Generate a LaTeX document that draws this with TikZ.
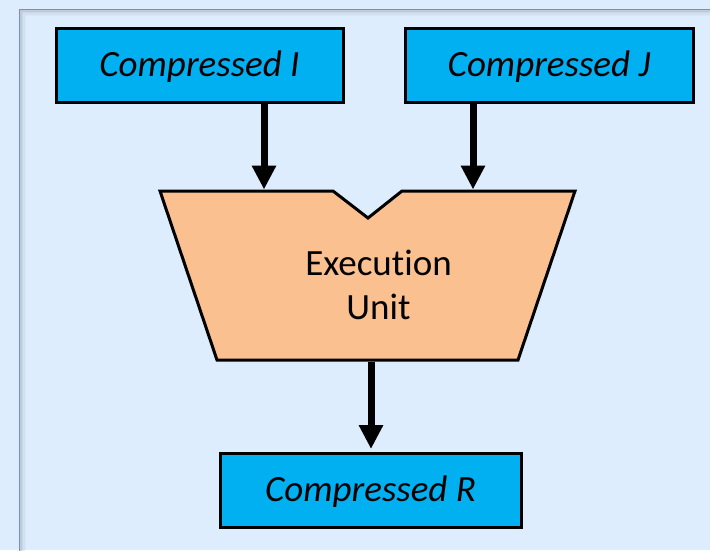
\documentclass[tikz,border=0pt]{standalone}
\usepackage{fontspec}
\setmainfont{Carlito}[Ligatures=NoCommon]
\usetikzlibrary{arrows.meta}
\definecolor{pagebg}{HTML}{DDEDFD}
\definecolor{framec}{HTML}{7091CB}
\definecolor{boxfill}{HTML}{00B0F0}
\definecolor{unitfill}{HTML}{FAC090}
\tikzset{
  databox/.style={draw=black, line width=3pt, fill=boxfill, minimum width=#1,
    minimum height=74pt, inner sep=0pt, text height=23.4pt, text depth=0pt,
    font=\fontsize{37}{44}\selectfont\itshape},
  databox/.default=287pt,
  flow/.style={draw=black, line width=7pt,
    -{Triangle[length=24pt,width=23pt]}},
  unitshape/.style={draw=black, line width=3pt, fill=unitfill, line join=miter},
}
\begin{document}
\begin{tikzpicture}[x=1pt,y=-1pt]
  % page background and frame
  \fill[pagebg] (0,0) rectangle (710,550);
  \useasboundingbox (0,0) rectangle (710,550);
  \foreach \d/\o in {1.5/0.25,3/0.16,4.5/0.09,6/0.04}{
    \draw[black!60, opacity=\o, line width=1.5pt] (19.5+\d,560) -- (19.5+\d,9.5+\d) -- (720,9.5+\d);
  }
  \draw[framec, line width=1.8pt] (19.5,560) -- (19.5,9.5) -- (720,9.5);

  % operand and result boxes
  \node[databox] (ci) at (199.5,65) {Compressed I};
  \node[databox=288pt] (cj) at (549,65) {Compressed J};
  \node[databox=301pt] (cr) at (370.5,490) {Compressed R};

  % execution unit (notched trapezoid)
  \draw[unitshape] (160,191) -- (333,191) -- (368,218) -- (402,191)
    -- (575,191) -- (518,360) -- (217,360) -- cycle;
  \node[align=center, inner sep=0pt, font=\fontsize{37}{44}\selectfont] (eu) at (378.5,285)
    {Execution\\Unit};

  % connector end points on the unit
  \coordinate (inI) at (264,189.5);
  \coordinate (inJ) at (473,189.5);
  \coordinate (outR) at (371,361.5);
  \coordinate (tipR) at (371,449);

  % connectors
  \draw[flow] (ci.south -| inI) -- (inI);
  \draw[flow] (cj.south -| inJ) -- (inJ);
  \draw[flow] (outR) -- (tipR);
\end{tikzpicture}
\end{document}
